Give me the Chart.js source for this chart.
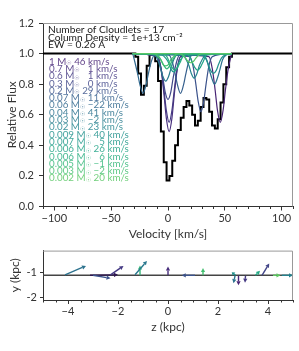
<!DOCTYPE html>
<html>
<head>
<meta charset="utf-8">
<script src="https://cdn.jsdelivr.net/npm/chart.js@4.4.1/dist/chart.umd.min.js"></script>
<style>
  html, body { margin: 0; padding: 0; background: #fff; width: 299px; height: 351px; overflow: hidden; }
  #spec { position: absolute; left: 0; top: 0; }
  #quiv { position: absolute; left: 0; top: 241px; }
</style>
</head>
<body>
<canvas id="spec" width="299" height="241"></canvas>
<canvas id="quiv" width="299" height="110"></canvas>
<script>
// total spectrum (binned)
const specVel = [-110, -30, -27.5, -25, -22.5, -20, -17.5, -15, -12.5, -10, -7.5, -5, -2.5, 0, 2.5, 5, 7.5, 10,
  12.5, 15, 17.5, 20, 22.5, 25, 27.5, 30, 32.5, 35, 37.5, 40, 42.5, 45, 47.5, 50, 52.5, 55, 57.5, 110];
const specFlux = [1, 1, 0.98, 0.87, 0.73, 0.79, 0.92, 0.99, 0.99, 0.95, 0.82, 0.49, 0.29, 0.17, 0.20, 0.30, 0.40, 0.50,
  0.58, 0.65, 0.69, 0.66, 0.60, 0.53, 0.56, 0.65, 0.71, 0.70, 0.62, 0.53, 0.51, 0.57, 0.68, 0.80, 0.91, 0.98, 1, 1];

// cloudlets
const cloudMass = ['1', '0.7', '0.6', '0.3', '0.2', '0.07', '0.06', '0.04', '0.03', '0.02',
  '0.009', '0.007', '0.006', '0.006', '0.005', '0.003', '0.002'];
const cloudVel = [46, 1, 1, 0, 29, 11, -22, 41, -2, 23, 40, 5, 26, 6, -1, -2, 20];
const profileWindow = [-31, 56];
const profileOffsets = [-10, -7, -4.5, -2.5, 0, 2.5, 4.5, 7, 10];
const cloudFlux = [
  [0.98, 0.90, 0.76, 0.63, 0.55, 0.63, 0.76, 0.90, 0.98],
  [0.98, 0.89, 0.73, 0.58, 0.49, 0.58, 0.73, 0.89, 0.98],
  [0.98, 0.90, 0.76, 0.63, 0.55, 0.63, 0.76, 0.90, 0.98],
  [0.99, 0.93, 0.84, 0.75, 0.70, 0.75, 0.84, 0.93, 0.99],
  [0.98, 0.92, 0.80, 0.69, 0.62, 0.69, 0.80, 0.92, 0.98],
  [0.99, 0.94, 0.86, 0.79, 0.74, 0.79, 0.86, 0.94, 0.99],
  [0.99, 0.94, 0.86, 0.79, 0.74, 0.79, 0.86, 0.94, 0.99],
  [0.99, 0.96, 0.89, 0.84, 0.80, 0.84, 0.89, 0.96, 0.99],
  [0.99, 0.96, 0.90, 0.85, 0.82, 0.85, 0.90, 0.96, 0.99],
  [0.99, 0.96, 0.92, 0.87, 0.84, 0.87, 0.92, 0.96, 0.99],
  [0.99, 0.97, 0.93, 0.89, 0.87, 0.89, 0.93, 0.97, 0.99],
  [0.99, 0.97, 0.94, 0.90, 0.88, 0.90, 0.94, 0.97, 0.99],
  [1.00, 0.98, 0.94, 0.91, 0.89, 0.91, 0.94, 0.98, 1.00],
  [1.00, 0.98, 0.94, 0.91, 0.89, 0.91, 0.94, 0.98, 1.00],
  [1.00, 0.98, 0.95, 0.92, 0.90, 0.92, 0.95, 0.98, 1.00],
  [1.00, 0.98, 0.96, 0.93, 0.92, 0.93, 0.96, 0.98, 1.00],
  [1.00, 0.99, 0.97, 0.95, 0.94, 0.95, 0.97, 0.99, 1.00]
];
const cloudColors = ['#482475', '#472f7d', '#443983', '#3f4788', '#3b528b', '#355f8d', '#31688e', '#2c728e',
  '#297b8e', '#25858e', '#21918c', '#1f998a', '#20a386', '#28ae80', '#35b779', '#44bf70', '#58c765'];
const infoLines = ['Number of Cloudlets = 17', 'Column Density = 1e+13 cm\u207B\u00B2', 'EW = 0.26 \u00C5'];

const velTicks = [-100, -50, 0, 50, 100];
const fluxTicks = [0, 0.2, 0.4, 0.6, 0.8, 1.0, 1.2];

// quiver (positions along the sightline, kpc)
const arrowZ = [-4.12, -3.12, -3.0, -2.3, -1.12, -1.32, 0, 1.08, 1.4, 2.7, 2.68, 2.82, 3.1, 3.5, 3.76, 4.2, 4.55];
const arrowY = [-1.08, -1.1, -1.1, -1.08, -1.1, -1.08, -1.1, -1.1, -1.1, -1.1, -1.12, -1.12, -1.12, -1.1, -1.1, -1.1, -1.1];
const arrowU = [0.84, 1.12, 0.7, 0.52, 0, 0.48, 0, -0.53, 0, -0.15, -0.06, 0, -0.02, 0.18, 0.29, 0.3, 0.45];
const arrowV = [0.36, 0.02, -0.12, 0.36, 0.4, 0.56, 0.36, 0, 0.3, 0.12, -0.3, -0.38, -0.28, 0.18, 0.48, 0, 0];
const arrowColors = ['#2c728e', '#2f1650', '#3b528b', '#443983', '#35b779', '#2a788e', '#472d7b', '#3b528b',
  '#44bf70', '#21918c', '#2c728e', '#482475', '#443983', '#22a884', '#414487', '#5ec962', '#26828e'];
const losY = -1.1;
const zTicks = [-4, -2, 0, 2, 4];
const yTicks = [-2, -1];

Chart.defaults.font.family = 'Lato, "DejaVu Sans", sans-serif';
Chart.defaults.color = '#333';

const fmtMinus = v => String(v).replace('-', '\u2212');

function setTicks(list) {
  return s => { s.ticks = list.map(v => ({ value: v })); };
}

function frameAndMinor(minorStep, minorFrom, minorTo, majorStep) {
  return (chart) => {
    const { ctx, chartArea: a, scales: { x } } = chart;
    ctx.save();
    ctx.strokeStyle = '#333';
    ctx.lineWidth = 1;
    for (let v = minorFrom; v <= minorTo + 1e-9; v += minorStep) {
      if (Math.abs(v / majorStep - Math.round(v / majorStep)) < 1e-6) continue;
      const px = Math.round(x.getPixelForValue(v)) + 0.5;
      ctx.beginPath();
      ctx.moveTo(px, a.bottom);
      ctx.lineTo(px, a.bottom + 2.5);
      ctx.stroke();
    }
    ctx.strokeStyle = '#999';
    ctx.beginPath();
    ctx.moveTo(a.left, a.top + 0.5);
    ctx.lineTo(a.right - 0.5, a.top + 0.5);
    ctx.lineTo(a.right - 0.5, a.bottom);
    ctx.stroke();
    ctx.restore();
  };
}

const specDecor = {
  id: 'specDecor',
  afterDraw(chart) {
    frameAndMinor(10, -110, 110, 50)(chart);
    const { ctx, chartArea: a } = chart;
    ctx.save();
    ctx.textBaseline = 'middle';
    ctx.fillStyle = '#222';
    ctx.font = '10.2px Lato, "DejaVu Sans", sans-serif';
    infoLines.forEach((t, i) => ctx.fillText(t, a.left + 5, a.top + 7 + i * 7.6));

    cloudMass.forEach((m, i) => {
      const yy = a.top + 38.5 + i * 7.3;
      let xx = a.left + 6;
      ctx.globalAlpha = 0.85;
      ctx.fillStyle = cloudColors[i];
      ctx.font = '9.8px Lato, "DejaVu Sans", sans-serif';
      const head = m + ' M';
      ctx.fillText(head, xx, yy);
      xx += ctx.measureText(head).width;
      ctx.font = '6px "DejaVu Sans", sans-serif';
      ctx.fillText('\u2609', xx, yy + 2);
      xx += ctx.measureText('\u2609').width;
      ctx.font = '9.8px Lato, "DejaVu Sans", sans-serif';
      ctx.fillText(' ' + fmtMinus(String(cloudVel[i]).padStart(2, '\u2007')) + ' km/s', xx, yy);
    });
    ctx.restore();
  }
};

const quiverDraw = {
  id: 'quiverDraw',
  afterDatasetsDraw(chart) {
    const { ctx, scales: { x, y } } = chart;
    ctx.save();
    arrowZ.forEach((z, i) => {
      const x0 = x.getPixelForValue(z), y0 = y.getPixelForValue(arrowY[i]);
      const x1 = x.getPixelForValue(z + arrowU[i]), y1 = y.getPixelForValue(arrowY[i] + arrowV[i]);
      const len = Math.hypot(x1 - x0, y1 - y0);
      const ang = Math.atan2(y1 - y0, x1 - x0);
      const hl = Math.min(4, len * 0.6), hw = 2.1;
      const bx = x1 - hl * Math.cos(ang), by = y1 - hl * Math.sin(ang);
      ctx.strokeStyle = ctx.fillStyle = arrowColors[i];
      ctx.lineWidth = 1.4;
      ctx.beginPath();
      ctx.moveTo(x0, y0);
      ctx.lineTo(bx, by);
      ctx.stroke();
      ctx.beginPath();
      ctx.moveTo(x1, y1);
      ctx.lineTo(bx + hw * Math.sin(ang), by - hw * Math.cos(ang));
      ctx.lineTo(bx - hw * Math.sin(ang), by + hw * Math.cos(ang));
      ctx.closePath();
      ctx.fill();
    });
    ctx.restore();
    frameAndMinor(0.5, -5, 5, 2)(chart);
  }
};

const cloudSets = cloudVel.map((c, i) => {
  const pts = profileOffsets
    .map((o, k) => ({ x: c + o, y: cloudFlux[i][k] }))
    .filter(p => p.x > profileWindow[0] && p.x < profileWindow[1]);
  return {
    data: [{ x: profileWindow[0], y: 1 }, ...pts, { x: profileWindow[1], y: 1 }],
    borderColor: cloudColors[i],
    borderWidth: 1.2,
    pointRadius: 0,
    cubicInterpolationMode: 'monotone',
    order: 16 - i
  };
});

new Chart(document.getElementById('spec'), {
  type: 'line',
  data: {
    datasets: [
      {
        data: specVel.map((v, i) => ({ x: v, y: specFlux[i] })),
        borderColor: '#000',
        borderWidth: 2,
        pointRadius: 0,
        stepped: 'middle',
        order: 20
      },
      ...cloudSets
    ]
  },
  options: {
    responsive: false,
    animation: false,
    layout: { padding: { top: 23, right: 6, left: 0, bottom: 0 } },
    plugins: { legend: { display: false }, tooltip: { enabled: false } },
    scales: {
      x: {
        type: 'linear', min: -110, max: 110,
        afterBuildTicks: setTicks(velTicks),
        afterFit: s => { s.height = 34.5; },
        grid: { drawOnChartArea: false, tickLength: 4, color: '#333' },
        border: { display: true, color: '#333' },
        ticks: { padding: 1, font: { size: 11 }, color: '#333', callback: v => fmtMinus(v) },
        title: { display: true, text: 'Velocity [km/s]', font: { size: 12 }, color: '#333', padding: { top: 0, bottom: 0 } }
      },
      y: {
        min: 0, max: 1.2,
        afterBuildTicks: setTicks(fluxTicks),
        afterFit: s => { s.width = 43; },
        grid: { drawOnChartArea: false, tickLength: 4, color: '#333' },
        border: { display: true, color: '#333' },
        ticks: { padding: 5, font: { size: 11 }, color: '#333', callback: v => v.toFixed(1) },
        title: { display: true, text: 'Relative Flux', font: { size: 12 }, color: '#333', padding: { top: 5, bottom: 0 } }
      }
    }
  },
  plugins: [specDecor]
});

new Chart(document.getElementById('quiv'), {
  type: 'scatter',
  data: {
    datasets: [{
      data: [{ x: -5, y: losY }, { x: 5, y: losY }],
      showLine: true,
      borderColor: '#444',
      borderWidth: 1.5,
      pointRadius: 0
    }]
  },
  options: {
    responsive: false,
    animation: false,
    layout: { padding: { top: 9, right: 6, left: 0, bottom: 0 } },
    plugins: { legend: { display: false }, tooltip: { enabled: false } },
    scales: {
      x: {
        type: 'linear', min: -5, max: 5,
        afterBuildTicks: setTicks(zTicks),
        afterFit: s => { s.height = 51; },
        grid: { drawOnChartArea: false, tickLength: 4, color: '#333' },
        border: { display: true, color: '#333' },
        ticks: { padding: 1, font: { size: 11 }, color: '#333', callback: v => fmtMinus(v) },
        title: { display: true, text: 'z (kpc)', font: { size: 12 }, color: '#333', padding: { top: 0, bottom: 17 } }
      },
      y: {
        type: 'linear', min: losY - 1, max: losY + 1,
        afterBuildTicks: setTicks(yTicks),
        afterFit: s => { s.width = 43; },
        grid: { drawOnChartArea: false, tickLength: 3, color: '#333' },
        border: { display: true, color: '#333' },
        ticks: { padding: 3, font: { size: 11 }, color: '#333', callback: v => String(v) },
        title: { display: true, text: 'y (kpc)', font: { size: 12 }, color: '#333', padding: { top: 8, bottom: 0 } }
      }
    }
  },
  plugins: [quiverDraw]
});
</script>
</body>
</html>
